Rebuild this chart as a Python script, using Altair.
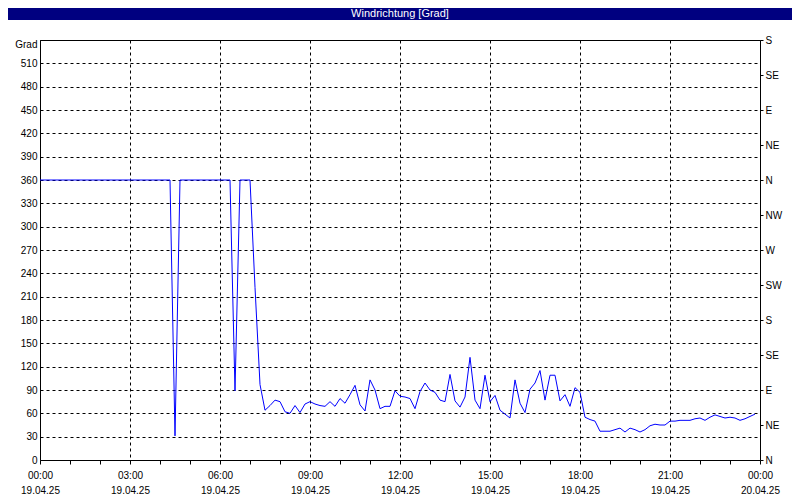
import altair as alt
import pandas as pd

# 10-minute samples, 19.04.25 00:00 .. 23:50
times = [f"{h:02d}:{m:02d}" for h in range(24) for m in range(0, 60, 10)]

grad = (
    [360] * 27            # 00:00 - 04:20
    + [31]                # 04:30
    + [360] * 11          # 04:40 - 06:20
    + [89]                # 06:30
    + [360, 360, 360]     # 06:40 - 07:00
    + [222, 97, 64, 70, 77]                 # 07:10 - 07:50
    + [75, 62, 60, 70, 61, 72]              # 08:00 - 08:50
    + [75, 72, 70, 69, 75, 69]              # 09:00 - 09:50
    + [79, 73, 84, 96, 71, 63]              # 10:00 - 10:50
    + [103, 90, 66, 69, 69, 89]             # 11:00 - 11:50
    + [82, 81, 79, 66, 88, 99]              # 12:00 - 12:50
    + [90, 87, 77, 75, 110, 76]             # 13:00 - 13:50
    + [68, 81, 132, 77, 66, 109]            # 14:00 - 14:50
    + [75, 83, 64, 59, 54, 103]             # 15:00 - 15:50
    + [73, 61, 91, 99, 115, 77]             # 16:00 - 16:50
    + [109, 109, 76, 84, 69, 93]            # 17:00 - 17:50
    + [87, 55, 52, 50, 37, 37]              # 18:00 - 18:50
    + [37, 39, 41, 36, 41, 39]              # 19:00 - 19:50
    + [36, 39, 44, 46, 45, 45]              # 20:00 - 20:50
    + [50, 50, 51, 51, 51, 53]              # 21:00 - 21:50
    + [54, 51, 55, 58, 56, 54]              # 22:00 - 22:50
    + [55, 54, 51, 53, 56, 59]              # 23:00 - 23:50
)

hour_ticks = list(range(0, 25))
left_ticks = list(range(0, 541, 30))
right_ticks = list(range(0, 541, 45))
compass = ["N", "NE", "E", "SE", "S", "SW", "W", "NW", "N", "NE", "E", "SE", "S"]
dates = ["19.04.25", "20.04.25"]
title_text = "Windrichtung [Grad]"

df = pd.DataFrame({"time": times, "grad": grad})
df["hour"] = df["time"].str.slice(0, 2).astype(int) + df["time"].str.slice(3, 5).astype(int) / 60.0

FONT = "Liberation Sans"
x_scale = alt.Scale(domain=[0, 24], nice=False, zero=False)
y_scale = alt.Scale(domain=[0, 540], nice=False, zero=False)

x_axis = alt.Axis(
    title=None,
    values=hour_ticks,
    domain=False,
    ticks=True,
    tickSize=4,
    tickColor="black",
    labelExpr=(
        "datum.value % 3 == 0 ? ["
        "(datum.value % 24 < 10 ? '0' : '') + (datum.value % 24) + ':00', "
        f"datum.value < 24 ? '{dates[0]}' : '{dates[1]}'] : ''"
    ),
    labelLineHeight=15,
    labelPadding=6,
    labelFont=FONT,
    labelFontSize=10,
    labelColor="black",
    labelOverlap=False,
    labelFlush=False,
    grid=True,
    gridColor="black",
    gridDash=[3, 3],
    gridOpacity={"condition": {"test": "datum.value % 3 == 0", "value": 1}, "value": 0},
)

line = alt.Chart(df).mark_line(color="#0000FF", strokeWidth=1).encode(
    x=alt.X("hour:Q", scale=x_scale, axis=x_axis),
    y=alt.Y(
        "grad:Q",
        scale=y_scale,
        axis=alt.Axis(
            title=None,
            values=left_ticks,
            domain=False,
            ticks=False,
            labelPadding=3,
            labelFont=FONT,
            labelFontSize=10,
            labelColor="black",
            labelOverlap=False,
            labelFlush=False,
            labelExpr="datum.value == 540 ? 'Grad' : datum.label",
            labelOffset={"condition": {"test": "datum.value == 540", "value": 4}, "value": 0},
            grid=True,
            gridColor="black",
            gridDash=[3, 3],
        ),
    ),
)

right = alt.Chart(df).mark_line(opacity=0).encode(
    x=alt.X("hour:Q", scale=x_scale, axis=x_axis),
    y=alt.Y(
        "grad:Q",
        scale=y_scale,
        axis=alt.Axis(
            title=None,
            orient="right",
            values=right_ticks,
            domain=False,
            ticks=True,
            tickSize=3,
            tickColor="black",
            labelPadding=2,
            labelFont=FONT,
            labelFontSize=10,
            labelColor="black",
            labelOverlap=False,
            labelFlush=False,
            labelExpr="['" + "','".join(compass) + "'][round(datum.value / 45)]",
            grid=False,
        ),
    ),
)

bar_df = pd.DataFrame({"t": [title_text]})
title_bar = alt.Chart(bar_df).mark_rect(color="#000080").encode(
    x=alt.value(-32), x2=alt.value(752), y=alt.value(-32), y2=alt.value(-20)
)
title_lbl = alt.Chart(bar_df).mark_text(
    color="white", font=FONT, fontSize=11, baseline="alphabetic", align="center"
).encode(x=alt.value(360), y=alt.value(-23), text="t:N")

chart = (
    alt.layer(line, right, title_bar, title_lbl)
    .resolve_scale(y="independent")
    .properties(
        width=720,
        height=420,
        padding={"left": 32, "top": 32, "right": 32, "bottom": 37},
        autosize=alt.AutoSizeParams(type="none"),
        background="white",
    )
    .configure_view(stroke="black", strokeWidth=1)
)

chart.save("out.html", embed_options={"renderer": "svg", "actions": False})
